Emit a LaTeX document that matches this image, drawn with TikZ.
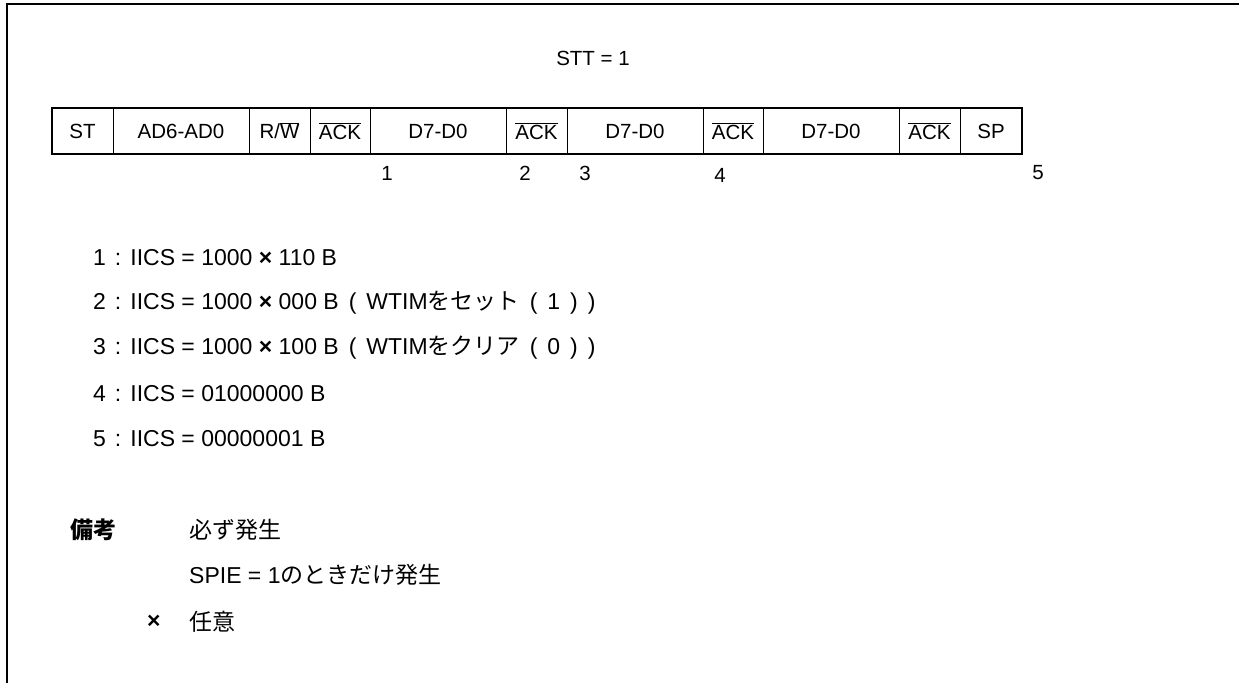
\documentclass[tikz,border=0pt]{standalone}
\usepackage{fontspec}
\setmainfont{Liberation Sans}
\newfontfamily\jp{Noto Sans CJK JP}
\newcommand\ovl[1]{$\overline{\hbox{#1}}$}
\newcommand\cl{\hspace{9pt}:\hspace{9pt}}
\newcommand\op{\hspace{10pt}(\hspace{10pt}}
\newcommand\cp{\hspace{10pt})}
\begin{document}
\begin{tikzpicture}[x=1pt,y=-1pt,
  cell/.style={draw,line width=0.9pt,inner sep=0pt,outer sep=0pt,minimum height=46pt,font=\fontsize{20.5}{24}\selectfont},
  lbl/.style={inner sep=0pt,font=\fontsize{20.5}{24}\selectfont},
  txt/.style={inner sep=0pt,anchor=west,font=\fontsize{23}{27}\selectfont},
  frame/.style={line width=1.7pt}]
\useasboundingbox (0,0) rectangle (1239,683);
% outer frame (top and left only)
\coordinate (ftr) at (1239,4);
\coordinate (ftl) at (7,4);
\coordinate (fbl) at (7,683);
\draw[frame] (ftr) -- (ftl) -- (fbl);
% title
\node[lbl] (stt) at (593,58) {STT = 1};
% cells
\node[cell,minimum width=61pt]  (c1)  at (82.5,131) {ST};
\node[cell,minimum width=136pt] (c2)  at (181,131)  {AD6-AD0};
\node[cell,minimum width=61pt]  (c3)  at (279.5,131) {R/\ovl{W}};
\node[cell,minimum width=60pt]  (c4)  at (340,131)  {\ovl{ACK}};
\node[cell,minimum width=136pt] (c5)  at (438,131)  {D7-D0};
\node[cell,minimum width=61pt]  (c6)  at (536.5,131) {\ovl{ACK}};
\node[cell,minimum width=136pt] (c7)  at (635,131)  {D7-D0};
\node[cell,minimum width=60pt]  (c8)  at (733,131)  {\ovl{ACK}};
\node[cell,minimum width=136pt] (c9)  at (831,131)  {D7-D0};
\node[cell,minimum width=61pt]  (c10) at (929.5,131) {\ovl{ACK}};
\node[cell,minimum width=62pt]  (c11) at (991,131)  {SP};
\draw[line width=1.8pt] (c1.north west) rectangle (c11.south east);
% markers
\node[lbl] (m1) at (387,173)  {1};
\node[lbl] (m2) at (525,173)  {2};
\node[lbl] (m3) at (585,173)  {3};
\node[lbl] (m4) at (720,175)  {4};
\node[lbl] (m5) at (1038,173) {5};
% list
\node[txt] (l1) at (93,258) {1\cl IICS = 1000 {\bfseries ×} 110 B};
\node[txt] (l2) at (93,303) {2\cl IICS = 1000 {\bfseries ×} 000 B\op WTIM{\jp をセット}\op 1\cp\cp};
\node[txt] (l3) at (93,348) {3\cl IICS = 1000 {\bfseries ×} 100 B\op WTIM{\jp をクリア}\op 0\cp\cp};
\node[txt] (l4) at (93,394) {4\cl IICS = 01000000 B};
\node[txt] (l5) at (93,439) {5\cl IICS = 00000001 B};
% remarks
\node[txt] (r0) at (70,530) {\jp\bfseries 備考};
\node[txt] (r1) at (189,530) {\jp 必ず発生};
\node[txt] (r2) at (189,575) {SPIE = 1{\jp のときだけ発生}};
\node[txt] (rx) at (147,622) {\bfseries ×};
\node[txt] (r3) at (189,622) {\jp 任意};
\end{tikzpicture}
\end{document}
